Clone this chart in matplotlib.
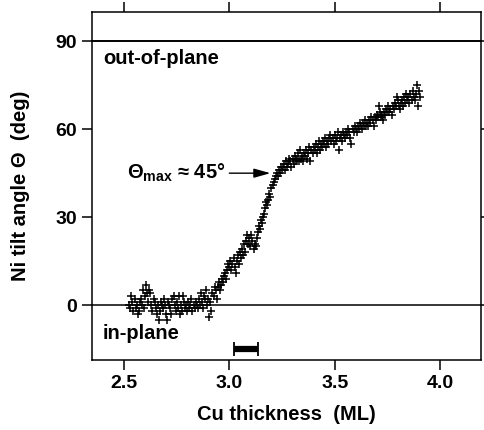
import matplotlib
matplotlib.use("Agg")
import matplotlib.pyplot as plt

plt.rcParams['font.family'] = ['Liberation Sans', 'DejaVu Sans']
plt.rcParams['font.weight'] = 'bold'
plt.rcParams['mathtext.fontset'] = 'custom'
plt.rcParams['mathtext.rm'] = 'Liberation Sans:bold'
plt.rcParams['mathtext.it'] = 'Liberation Sans:bold'
plt.rcParams['mathtext.default'] = 'rm'

# Cu thickness (ML) and Ni tilt angle (deg)
cu_flat = [2.525, 2.53, 2.535, 2.54, 2.545, 2.55, 2.555, 2.56, 2.565, 2.57, 2.575, 2.58,
           2.585, 2.59, 2.595, 2.60, 2.605, 2.61, 2.615, 2.62, 2.625, 2.63, 2.635, 2.64,
           2.645, 2.65, 2.655, 2.66, 2.665, 2.67, 2.675, 2.68, 2.685, 2.69, 2.695, 2.70,
           2.705, 2.71, 2.715, 2.72, 2.725, 2.73, 2.735, 2.74, 2.745, 2.75, 2.755, 2.76,
           2.765, 2.77, 2.775, 2.78, 2.785, 2.79, 2.795, 2.80, 2.805, 2.81, 2.815, 2.82,
           2.825, 2.83, 2.835, 2.84, 2.845, 2.85, 2.855, 2.86, 2.865, 2.87, 2.875, 2.88,
           2.885, 2.89, 2.895, 2.90, 2.905, 2.91, 2.915, 2.92, 2.925, 2.93, 2.935, 2.94]
tilt_flat = [0, -1, 3, 1, -2, 2, -1, 0, -3, -2, 1, 2,
             0, 5, -1, 3, 7, 4, 1, 5, 4, 0, -2, 2,
             1, -1, -3, 0, -5, -2, 1, 0, -1, 2, 0, -3,
             -5, 1, 0, -1, -3, 2, 3, 0, -2, 1, -1, 3,
             -3, 0, -2, 3, 1, -1, 0, -2, 1, -1, 0, 2,
             -2, 0, -1, 1, 0, -1, 2, 0, 4, 1, -1, 3,
             2, 5, 0, 2, -4, 1, -2, 4, 3, 6, 5, 2]

cu_rise = [2.945, 2.95, 2.955, 2.96, 2.965, 2.97, 2.975, 2.98, 2.985, 2.99, 2.995, 3.00,
           3.005, 3.01, 3.015, 3.02, 3.025, 3.03, 3.035, 3.04, 3.045, 3.05, 3.055, 3.06,
           3.065, 3.07, 3.075, 3.08, 3.085, 3.09, 3.095, 3.10, 3.105, 3.11, 3.115, 3.12,
           3.125, 3.13, 3.135, 3.14, 3.145, 3.15, 3.155, 3.16, 3.165, 3.17, 3.175, 3.18,
           3.185, 3.19, 3.195, 3.20, 3.205, 3.21, 3.215, 3.22, 3.225, 3.23, 3.235, 3.24,
           3.245, 3.25]
tilt_rise = [6, 8, 5, 7, 9, 8, 10, 11, 9, 12, 14, 13,
             15, 12, 14, 16, 13, 11, 15, 17, 14, 18, 16, 19,
             17, 21, 18, 22, 24, 21, 23, 20, 24, 22, 19, 21,
             20, 23, 25, 27, 26, 29, 28, 30, 31, 33, 35, 34,
             36, 38, 37, 40, 41, 42, 43, 44, 45, 44, 46, 45,
             47, 46]

cu_high = [3.255, 3.26, 3.265, 3.27, 3.275, 3.28, 3.285, 3.29, 3.295, 3.30, 3.305, 3.31,
           3.315, 3.32, 3.325, 3.33, 3.335, 3.34, 3.345, 3.35, 3.355, 3.36, 3.365, 3.37,
           3.375, 3.38, 3.385, 3.39, 3.395, 3.40, 3.405, 3.41, 3.415, 3.42, 3.425, 3.43,
           3.435, 3.44, 3.445, 3.45, 3.455, 3.46, 3.465, 3.47, 3.475, 3.48, 3.485, 3.49,
           3.495, 3.50, 3.505, 3.51, 3.515, 3.52, 3.525, 3.53, 3.535, 3.54, 3.545, 3.55,
           3.555, 3.56, 3.565, 3.57, 3.575, 3.58, 3.585, 3.59, 3.595, 3.60, 3.605, 3.61,
           3.615, 3.62, 3.625, 3.63, 3.635, 3.64, 3.645, 3.65, 3.655, 3.66, 3.665, 3.67,
           3.675, 3.68, 3.685, 3.69, 3.695, 3.70, 3.705, 3.71, 3.715, 3.72, 3.725, 3.73,
           3.735, 3.74, 3.745, 3.75, 3.755, 3.76, 3.765, 3.77, 3.775, 3.78, 3.785, 3.79,
           3.795, 3.80, 3.805, 3.81, 3.815, 3.82, 3.825, 3.83, 3.835, 3.84, 3.845, 3.85,
           3.855, 3.86, 3.865, 3.87, 3.875, 3.88, 3.885, 3.89, 3.895, 3.90, 3.905]
tilt_high = [47, 48, 46, 49, 47, 48, 50, 49, 47, 50, 48, 51,
             49, 50, 52, 49, 53, 50, 51, 49, 52, 51, 53, 50,
             52, 54, 49, 53, 52, 54, 53, 55, 52, 54, 56, 53,
             55, 54, 56, 55, 57, 54, 56, 55, 57, 58, 56, 57,
             55, 58, 56, 57, 59, 53, 57, 58, 56, 59, 58, 57,
             59, 58, 60, 59, 57, 55, 60, 59, 61, 60, 59, 61,
             60, 62, 61, 60, 62, 61, 63, 61, 62, 61, 63, 62,
             64, 63, 61, 64, 63, 65, 64, 68, 66, 64, 65, 63,
             66, 65, 67, 66, 68, 66, 67, 65, 68, 67, 69, 68,
             71, 70, 68, 67, 69, 70, 68, 71, 69, 72, 70, 71,
             69, 72, 70, 73, 71, 70, 72, 75, 68, 73, 71]

cu = cu_flat + cu_rise + cu_high
tilt = tilt_flat + tilt_rise + tilt_high

xticks = [2.5, 3.0, 3.5, 4.0]
yticks = [0, 30, 60, 90]

fig = plt.figure(figsize=(4.85, 4.30), dpi=100)
ax = fig.add_axes([0.1897, 0.1628, 0.8021, 0.8093])

ax.axhline(90, color='black', lw=1.4, clip_on=False)
ax.axhline(0, color='black', lw=1.1, clip_on=False)

ax.plot(cu, tilt, '+', color='black', markersize=5.5, markeredgewidth=1.1)

# scale bar below the data
ax.errorbar([3.077], [-15], xerr=[0.057], fmt='none', ecolor='black',
            elinewidth=4.5, capsize=5, capthick=1.3)

ax.text(2.40, 84, 'out-of-plane', fontsize=14.5, fontweight='bold', va='center', ha='left')
ax.text(2.40, -9.8, 'in-plane', fontsize=14.5, fontweight='bold', va='center', ha='left')
ax.text(2.515, 45, r'$\Theta_{max}$ ≈ 45°', fontsize=14.5, fontweight='bold',
        va='center', ha='left')
ax.annotate('', xy=(3.195, 45), xytext=(3.0, 45),
            arrowprops=dict(arrowstyle='-|>,head_length=1.0,head_width=0.28',
                            color='black', lw=1.0, shrinkA=0, shrinkB=0))

ax.set_xlim(2.348, 4.195)
ax.set_ylim(-18.75, 100)
ax.set_xticks(xticks)
ax.set_yticks(yticks)
ax.set_xticklabels(['2.5', '3.0', '3.5', '4.0'])
ax.tick_params(direction='out', length=7, width=1.1, labelsize=14, pad=4,
               top=True, right=True)
for lab in ax.get_xticklabels() + ax.get_yticklabels():
    lab.set_fontweight('bold')
for sp in ax.spines.values():
    sp.set_linewidth(1.1)

ax.set_xlabel('Cu thickness  (ML)', fontsize=14.5, fontweight='bold', labelpad=9)
ax.set_ylabel('Ni tilt angle Θ  (deg)', fontsize=14.5, fontweight='bold', labelpad=18)

fig.savefig('out.png', dpi=100)
